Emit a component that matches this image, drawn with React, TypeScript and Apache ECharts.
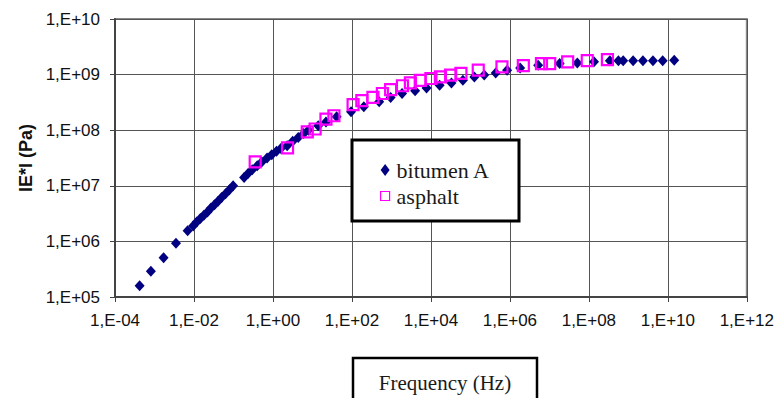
import React, { useEffect, useRef } from "react";
import * as echarts from "echarts";

// Bitumen A: frequency (Hz) and |E*| (Pa)
const freqBitumen = [
  4.2e-4, 8.1e-4, 1.7e-3, 3.5e-3, 6.9e-3, 9.5e-3, 1.17e-2, 1.45e-2, 1.78e-2, 2.19e-2,
  2.69e-2, 3.31e-2, 4.07e-2, 5.0e-2, 6.3e-2, 7.9e-2, 9.8e-2, 0.186, 0.234, 0.30,
  0.40, 0.52, 0.71, 0.93, 1.23, 1.58, 2.29, 3.16, 4.37, 6.0,
  7.9, 14, 22, 41, 95, 200, 490, 955, 1860, 3980,
  7760, 1.66e4, 3.31e4, 6.46e4, 1.26e5, 2.24e5, 4.37e5, 8.5e5, 1.82e6, 5.2e6,
  1.82e7, 5.1e7, 1.35e8, 3.4e8, 5.6e8, 7.4e8, 1.32e9, 2.34e9, 4.2e9, 7.4e9,
  1.45e10,
];
const modBitumen = [
  1.6e5, 2.9e5, 5.1e5, 9.3e5, 1.55e6, 1.9e6, 2.24e6, 2.57e6, 2.95e6, 3.39e6,
  3.98e6, 4.57e6, 5.25e6, 6.17e6, 7.2e6, 8.5e6, 1.0e7, 1.41e7, 1.66e7, 1.95e7,
  2.29e7, 2.69e7, 3.16e7, 3.63e7, 4.17e7, 4.68e7, 5.25e7, 6.3e7, 7.4e7, 8.7e7,
  1.0e8, 1.2e8, 1.41e8, 1.74e8, 2.14e8, 2.63e8, 3.24e8, 3.89e8, 4.57e8, 5.13e8,
  5.75e8, 6.46e8, 7.08e8, 7.94e8, 9.1e8, 9.8e8, 1.07e9, 1.2e9, 1.32e9, 1.48e9,
  1.58e9, 1.62e9, 1.7e9, 1.78e9, 1.78e9, 1.78e9, 1.78e9, 1.78e9, 1.78e9, 1.78e9,
  1.82e9,
];

// Asphalt
const freqAsphalt = [
  0.355, 2.34, 7.4, 11.7, 22, 35, 107, 178, 340, 590,
  955, 1900, 3020, 5370, 1.0e4, 1.74e4, 3.16e4, 5.75e4, 1.58e5, 6.3e5,
  2.19e6, 6.3e6, 1.02e7, 2.9e7, 9.1e7, 2.95e8,
];
const modAsphalt = [
  2.7e7, 4.8e7, 9.3e7, 1.05e8, 1.58e8, 1.82e8, 2.88e8, 3.39e8, 3.9e8, 4.57e8,
  5.37e8, 6.3e8, 7.1e8, 7.9e8, 8.5e8, 9.1e8, 9.8e8, 1.05e9, 1.2e9, 1.38e9,
  1.45e9, 1.58e9, 1.58e9, 1.7e9, 1.78e9, 1.86e9,
];

const seriesNames = ["bitumen A", "asphalt"];
const xAxisTitle = "Frequency (Hz)";
const yAxisTitle = "IE*I (Pa)";

function expLabel(v: number): string {
  const e = Math.round(Math.log10(v));
  const s = e < 0 ? "-" : "+";
  const a = Math.abs(e);
  return "1,E" + s + (a < 10 ? "0" + a : String(a));
}

export default function App() {
  const ref = useRef<HTMLDivElement>(null);
  useEffect(() => {
    if (!ref.current) return;
    const chart = echarts.init(ref.current, undefined, { renderer: "svg" });
    const sans = "'Liberation Sans', Arial, sans-serif";
    const serif = "'Liberation Serif', 'Times New Roman', serif";
    chart.setOption({
      animation: false,
      backgroundColor: "#fff",
      grid: {
        left: 115,
        right: 19,
        top: 19,
        bottom: 101,
        show: true,
        borderColor: "#8a8a8a",
        borderWidth: 2,
        backgroundColor: "transparent",
      },
      xAxis: {
        type: "log",
        logBase: 10,
        min: 1e-4,
        max: 1e12,
        interval: 2,
        axisLine: { show: true, lineStyle: { color: "#444", width: 2 } },
        axisTick: { show: true, length: 5, lineStyle: { color: "#444", width: 1 } },
        axisLabel: {
          formatter: expLabel,
          fontFamily: sans,
          fontSize: 17,
          color: "#111",
          margin: 15,
        },
        splitLine: { show: true, lineStyle: { color: "#555", width: 1 } },
        minorTick: { show: false },
      },
      yAxis: {
        type: "log",
        logBase: 10,
        min: 1e5,
        max: 1e10,
        interval: 1,
        name: yAxisTitle,
        nameLocation: "middle",
        nameRotate: 90,
        nameGap: 77,
        nameTextStyle: { fontFamily: sans, fontSize: 18, fontWeight: "bold", color: "#111" },
        axisLine: { show: true, lineStyle: { color: "#444", width: 2 } },
        axisTick: { show: true, length: 5, lineStyle: { color: "#444", width: 1 } },
        axisLabel: {
          formatter: expLabel,
          fontFamily: sans,
          fontSize: 17,
          color: "#111",
          margin: 15,
        },
        splitLine: { show: true, lineStyle: { color: "#555", width: 1 } },
      },
      legend: {
        orient: "vertical",
        left: 375,
        top: 154,
        itemGap: 4,
        itemWidth: 9,
        itemHeight: 12,
        z: 10,
        textStyle: {
          fontFamily: serif,
          fontSize: 22,
          lineHeight: 22,
          color: "#1a1a1a",
          padding: [0, 0, 0, 2],
        },
        data: [
          { name: seriesNames[0], icon: "diamond", itemStyle: { color: "#000080", opacity: 1 } },
          {
            name: seriesNames[1],
            icon: "path://M0,0L10,0L10,10L0,10Z",
            itemStyle: { color: "#fff", borderColor: "#ff00ff", borderWidth: 1.2, opacity: 1 },
          },
        ],
      },
      graphic: [
        {
          type: "rect",
          z: 5,
          shape: { x: 352, y: 140, width: 167, height: 81 },
          style: { fill: "#fff", stroke: "#000", lineWidth: 3 },
        },
        {
          type: "rect",
          z: 5,
          shape: { x: 353, y: 358, width: 184, height: 60 },
          style: { fill: "#fff", stroke: "#000", lineWidth: 2.5 },
        },
        {
          type: "text",
          z: 6,
          x: 445,
          y: 383,
          style: {
            text: xAxisTitle,
            fontFamily: serif,
            fontSize: 21,
            fill: "#1a1a1a",
            align: "center",
            verticalAlign: "middle",
          },
        },
      ],
      series: [
        {
          name: seriesNames[0],
          type: "scatter",
          symbol: "diamond",
          symbolSize: [10, 11],
          itemStyle: { color: "#000080", opacity: 1 },
          data: freqBitumen.map((f, i) => [f, modBitumen[i]]),
          z: 2,
        },
        {
          name: seriesNames[1],
          type: "scatter",
          symbol: "rect",
          symbolSize: 11,
          itemStyle: { color: "transparent", borderColor: "#ff00ff", borderWidth: 2.2, opacity: 1 },
          data: freqAsphalt.map((f, i) => [f, modAsphalt[i]]),
          z: 3,
        },
      ],
    });
    return () => chart.dispose();
  }, []);
  return (
    <div
      ref={ref}
      style={{ position: "absolute", left: 0, top: 0, width: 777, height: 398 }}
    />
  );
}
